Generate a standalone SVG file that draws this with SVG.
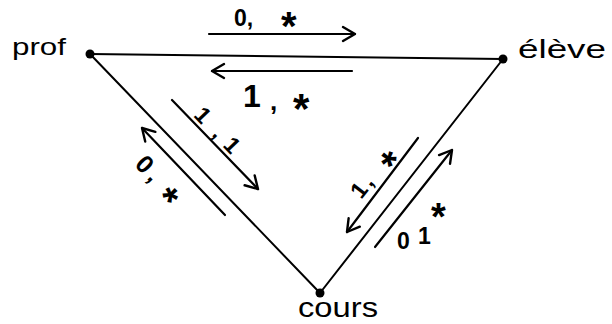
<svg xmlns="http://www.w3.org/2000/svg" width="612" height="324" viewBox="0 0 612 324">
  <defs>
    <style>
      .edge { stroke:#000; stroke-width:2; fill:none; stroke-linecap:round; }
      .arr { stroke:#000; stroke-width:2.2; fill:none; stroke-linecap:round; marker-end:url(#ah); }
      .lbl { font-family:"Liberation Sans", Arial, sans-serif; fill:#000; }
      .num { font-weight:bold; }
      .star { font-weight:bold; }
      .dot { fill:#000; }
    </style>
    <marker id="ah" markerWidth="18" markerHeight="18" refX="13" refY="8" orient="auto" markerUnits="userSpaceOnUse" overflow="visible">
      <path d="M1,1 L13,8 L1,15" fill="none" stroke="#000" stroke-width="2.4" stroke-linecap="round" stroke-linejoin="round"/>
    </marker>
  </defs>
  <rect width="612" height="324" fill="#fff"/>

  <g id="connectors">
    <path class="edge" d="M90,54 L503,59"/>
    <path class="edge" d="M90,54 L320,293"/>
    <path class="edge" d="M503,59 L320,293"/>
    <path class="arr" d="M209,34 L355,34"/>
    <path class="arr" d="M352,71 L212,71"/>
    <path class="arr" d="M172,100 L258,189"/>
    <path class="arr" d="M225,215 L142,128"/>
    <path class="arr" d="M418,138 L347,232"/>
    <path class="arr" d="M375,247 L452,150"/>
  </g>

  <g id="labels">
    <text class="lbl num" x="234" y="26" font-size="23">0,<tspan class="star" x="281" y="40" font-size="40">*</tspan></text>
    <text class="lbl num" x="243" y="107" font-size="32">1<tspan x="270" y="110" font-size="26">,</tspan><tspan class="star" x="293" y="123" font-size="42">*</tspan></text>
    <g transform="translate(203,115) rotate(46)">
      <text class="lbl num" y="8" font-size="23"><tspan x="-6.5">1</tspan><tspan x="20">,</tspan><tspan x="35.5">1</tspan></text>
    </g>
    <g transform="translate(145,164) rotate(46)">
      <text class="lbl num" y="9" font-size="25"><tspan x="-7">0</tspan><tspan x="11">,</tspan><tspan class="star" x="32" y="23" font-size="40">*</tspan></text>
    </g>
    <g transform="translate(359,190) rotate(-52)">
      <text class="lbl num" y="8" font-size="23"><tspan x="-6.5">1</tspan><tspan x="9">,</tspan><tspan class="star" x="35" y="24" font-size="40">*</tspan></text>
    </g>
    <text class="lbl num" font-size="23"><tspan x="397" y="249">0</tspan><tspan x="418" y="244">1</tspan><tspan class="star" x="431" y="230" font-size="38">*</tspan></text>
  </g>

  <g id="prof">
    <circle class="dot" cx="90" cy="54" r="4.5"/>
    <text class="lbl" x="12" y="55" font-size="24" textLength="54" lengthAdjust="spacingAndGlyphs">prof</text>
  </g>
  <g id="eleve">
    <circle class="dot" cx="503" cy="59" r="4.5"/>
    <text class="lbl" x="518" y="58" font-size="26" textLength="88" lengthAdjust="spacingAndGlyphs">élève</text>
  </g>
  <g id="cours">
    <circle class="dot" cx="320" cy="293" r="4.5"/>
    <text class="lbl" x="298" y="317" font-size="28" textLength="80" lengthAdjust="spacingAndGlyphs">cours</text>
  </g>
</svg>
